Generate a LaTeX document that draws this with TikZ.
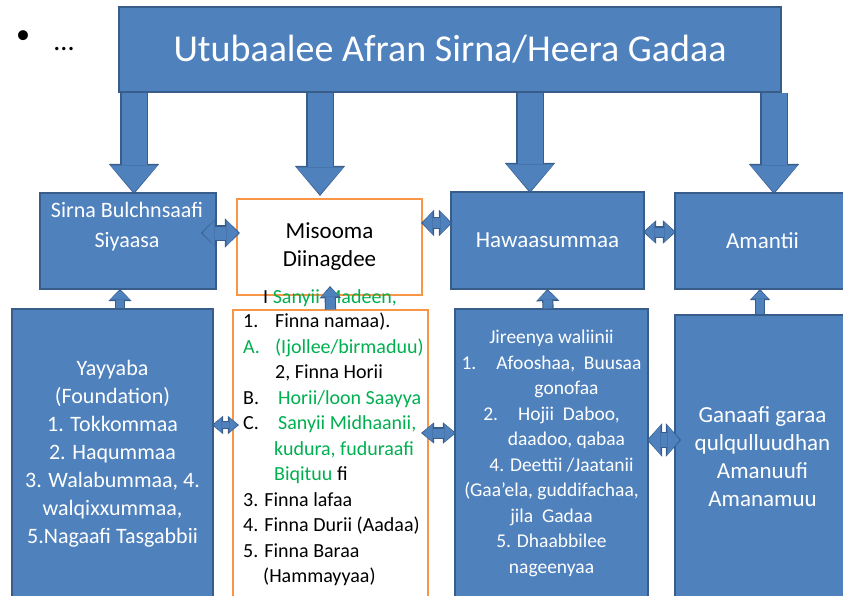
\documentclass[tikz,border=0pt]{standalone}
\usepackage{fontspec}
\setmainfont{Carlito}
\usetikzlibrary{arrows.meta}
\definecolor{boxblue}{HTML}{4F81BD}
\definecolor{boxline}{HTML}{385D8A}
\definecolor{boxorange}{HTML}{F79646}
\definecolor{textgreen}{HTML}{00B050}
\newcommand{\gr}[1]{\textcolor{textgreen}{#1}}
\newcommand{\lbl}[2]{\makebox[#1][l]{#2}}
% block arrow: #1 oneway/twoway, #2 shaft, #3 head width, #4 head length, #5 path
\newcommand{\blockarr}[5]{%
  \pgfmathsetmacro{\ow}{#2+2.2}\pgfmathsetmacro{\ohw}{#3+3.4}\pgfmathsetmacro{\ohl}{#4+3}%
  \draw[#1={\ow pt}{\ohw pt}{\ohl pt},#1 edge] #5;
  \draw[#1={#2pt}{#3pt}{#4pt}] #5;}
\begin{document}
\begin{tikzpicture}[x=1pt,y=-1pt,
    bluebox/.style={draw=boxline,line width=1.1pt,fill=boxblue,text=white,align=center,inner sep=0pt},
    orangebox/.style={draw=boxorange,line width=1.2pt,fill=white,align=center,inner sep=0pt},
    bodyfont/.style={font=\fontsize{22}{28}\selectfont},
    oneway/.style n args={3}{boxblue,line width=#1,-{Triangle[length=#3,width=#2,line width=0pt]}},
    twoway/.style n args={3}{boxblue,line width=#1,{Triangle[length=#3,width=#2,line width=0pt]}-{Triangle[length=#3,width=#2,line width=0pt]}},
    oneway edge/.style={boxline,shorten >=-1.5pt},
    twoway edge/.style={boxline,shorten >=-1.5pt,shorten <=-1.5pt}]
    \useasboundingbox (0,0) rectangle (843,595);
    \clip (0,0) rectangle (843,595);
    \node (bullet) at (23,37) {\fontsize{28}{30}\selectfont\textbullet};
    \node (dots) at (64,49) {\fontsize{28}{30}\selectfont...};
    % top box
    \node[bluebox,minimum width=662,minimum height=85,font=\fontsize{38}{40}\selectfont] (title) at (450,49.5) {Utubaalee Afran Sirna/Heera Gadaa};
    % second row
    \node[bluebox,minimum width=176,minimum height=96] (sirna) at (128,241) {};
    \node[text=white,align=center,font=\fontsize{22}{30}\selectfont] (sirnatext) at (127,227) {Sirna Bulchnsaafi\\Siyaasa};
    \node[orangebox,minimum width=185,minimum height=96,font=\fontsize{23}{28}\selectfont] (misooma) at (329.5,247) {Misooma\\Diinagdee};
    \node[bluebox,minimum width=193,minimum height=97,font=\fontsize{23}{28}\selectfont] (hawaas) at (547.5,240.5) {Hawaasummaa};
    \node[bluebox,minimum width=175,minimum height=96,font=\fontsize{23}{28}\selectfont] (amantii) at (762.5,241) {Amantii};
    % third row
    \node[bluebox,bodyfont,minimum width=201,minimum height=289] (yayyaba) at (112.5,453.5) {Yayyaba\\(Foundation)\\1. Tokkommaa\\2. Haqummaa\\3. Walabummaa, 4.\\walqixxummaa,\\5.Nagaafi Tasgabbii};
    \node[orangebox,minimum width=195,minimum height=290] (list) at (330.5,455) {};
    \node[anchor=north west,inner sep=0pt,align=left,font=\fontsize{20}{25.5}\selectfont] (items) at (243,313) {%
      \lbl{32pt}{1.}Finna namaa).\\
      \gr{\lbl{32pt}{A.}(Ijollee/birmaduu)}\\
      \hspace*{32pt}2, Finna Horii\\
      \lbl{35pt}{B.}\gr{Horii/loon Saayya}\\
      \lbl{35pt}{C.}\gr{Sanyii Midhaanii,}\\
      \hspace*{31pt}\gr{kudura, fuduraafi}\\
      \hspace*{31pt}\gr{Biqituu} fi\\
      3. Finna lafaa\\
      4. Finna Durii (Aadaa)\\
      5. Finna Baraa\\
      \hspace*{20pt}(Hammayyaa)};
    \node[anchor=west,inner sep=0pt,font=\fontsize{20}{24}\selectfont] (sanyii) at (263,298) {I \gr{Sanyii Madeen,}};
    \node[bluebox,minimum width=193,minimum height=289,font=\fontsize{19.5}{25.5}\selectfont] (jireenya) at (551.5,453.5) {Jireenya waliinii\\1.\hspace{20pt}Afooshaa,\ \ Buusaa\\\hspace*{30pt}gonofaa\\2.\hspace{20pt}Hojii\ \ Daboo,\\\hspace*{30pt}daadoo, qabaa\\\hspace*{20pt}4. Deettii /Jaatanii\\(Gaa’ela, guddifachaa,\\jila\ \ Gadaa\\5. Dhaabbilee\\nageenyaa};
    \node[bluebox,minimum width=175,minimum height=283,font=\fontsize{23}{28}\selectfont] (ganaa) at (762.5,456.5) {Ganaafi garaa\\qulqulluudhan\\Amanuufi\\Amanamuu};
    % arrows from the top box
    \blockarr{oneway}{25}{47}{27}{([xshift=6pt]sirna.north |- title.south) -- ([xshift=6pt]sirna.north)}
    \blockarr{oneway}{25}{47}{27}{([xshift=-9.5pt]misooma.north |- title.south) -- ([xshift=-9.5pt,yshift=4pt]misooma.north)}
    \blockarr{oneway}{25}{47}{27}{([xshift=-17.5pt]hawaas.north |- title.south) -- ([xshift=-17.5pt]hawaas.north)}
    \blockarr{oneway}{25}{47}{27}{([xshift=11.5pt]amantii.north |- title.south) -- ([xshift=11.5pt]amantii.north)}
    % arrows up
    \blockarr{oneway}{8}{20}{9}{([xshift=7.5pt]yayyaba.north) -- ([xshift=-8pt,yshift=-1pt]sirna.south)}
    \blockarr{oneway}{9}{18}{9}{(list.north) -- ([xshift=0.5pt,yshift=8pt]misooma.south)}
    \blockarr{oneway}{9}{20}{9}{([xshift=-3.5pt]jireenya.north) -- ([yshift=-1pt]hawaas.south)}
    \blockarr{oneway}{8}{17}{8}{([xshift=-2.5pt]ganaa.north) -- ([xshift=-2.5pt,yshift=-1pt]amantii.south)}
    % arrows both ways
    \blockarr{twoway}{13}{26}{12}{([xshift=-14pt,yshift=8pt]sirna.east) -- ([xshift=2pt,yshift=14pt]misooma.west)}
    \blockarr{twoway}{10}{23}{10}{([yshift=24pt]misooma.east) -- ([yshift=17.5pt]hawaas.west)}
    \blockarr{twoway}{9}{20}{10}{([yshift=8.5pt]hawaas.east) -- ([yshift=9pt]amantii.west)}
    \blockarr{twoway}{6}{15}{8}{([yshift=28.5pt]yayyaba.east) -- ([xshift=5pt,yshift=30pt]list.west)}
    \blockarr{twoway}{9}{18}{10}{([xshift=-6pt,yshift=22pt]list.east) -- ([yshift=20.5pt]jireenya.west)}
    \blockarr{twoway}{14}{30}{12}{([yshift=13.5pt]jireenya.east) -- ([xshift=5pt,yshift=16.5pt]ganaa.west)}
\end{tikzpicture}
\end{document}
